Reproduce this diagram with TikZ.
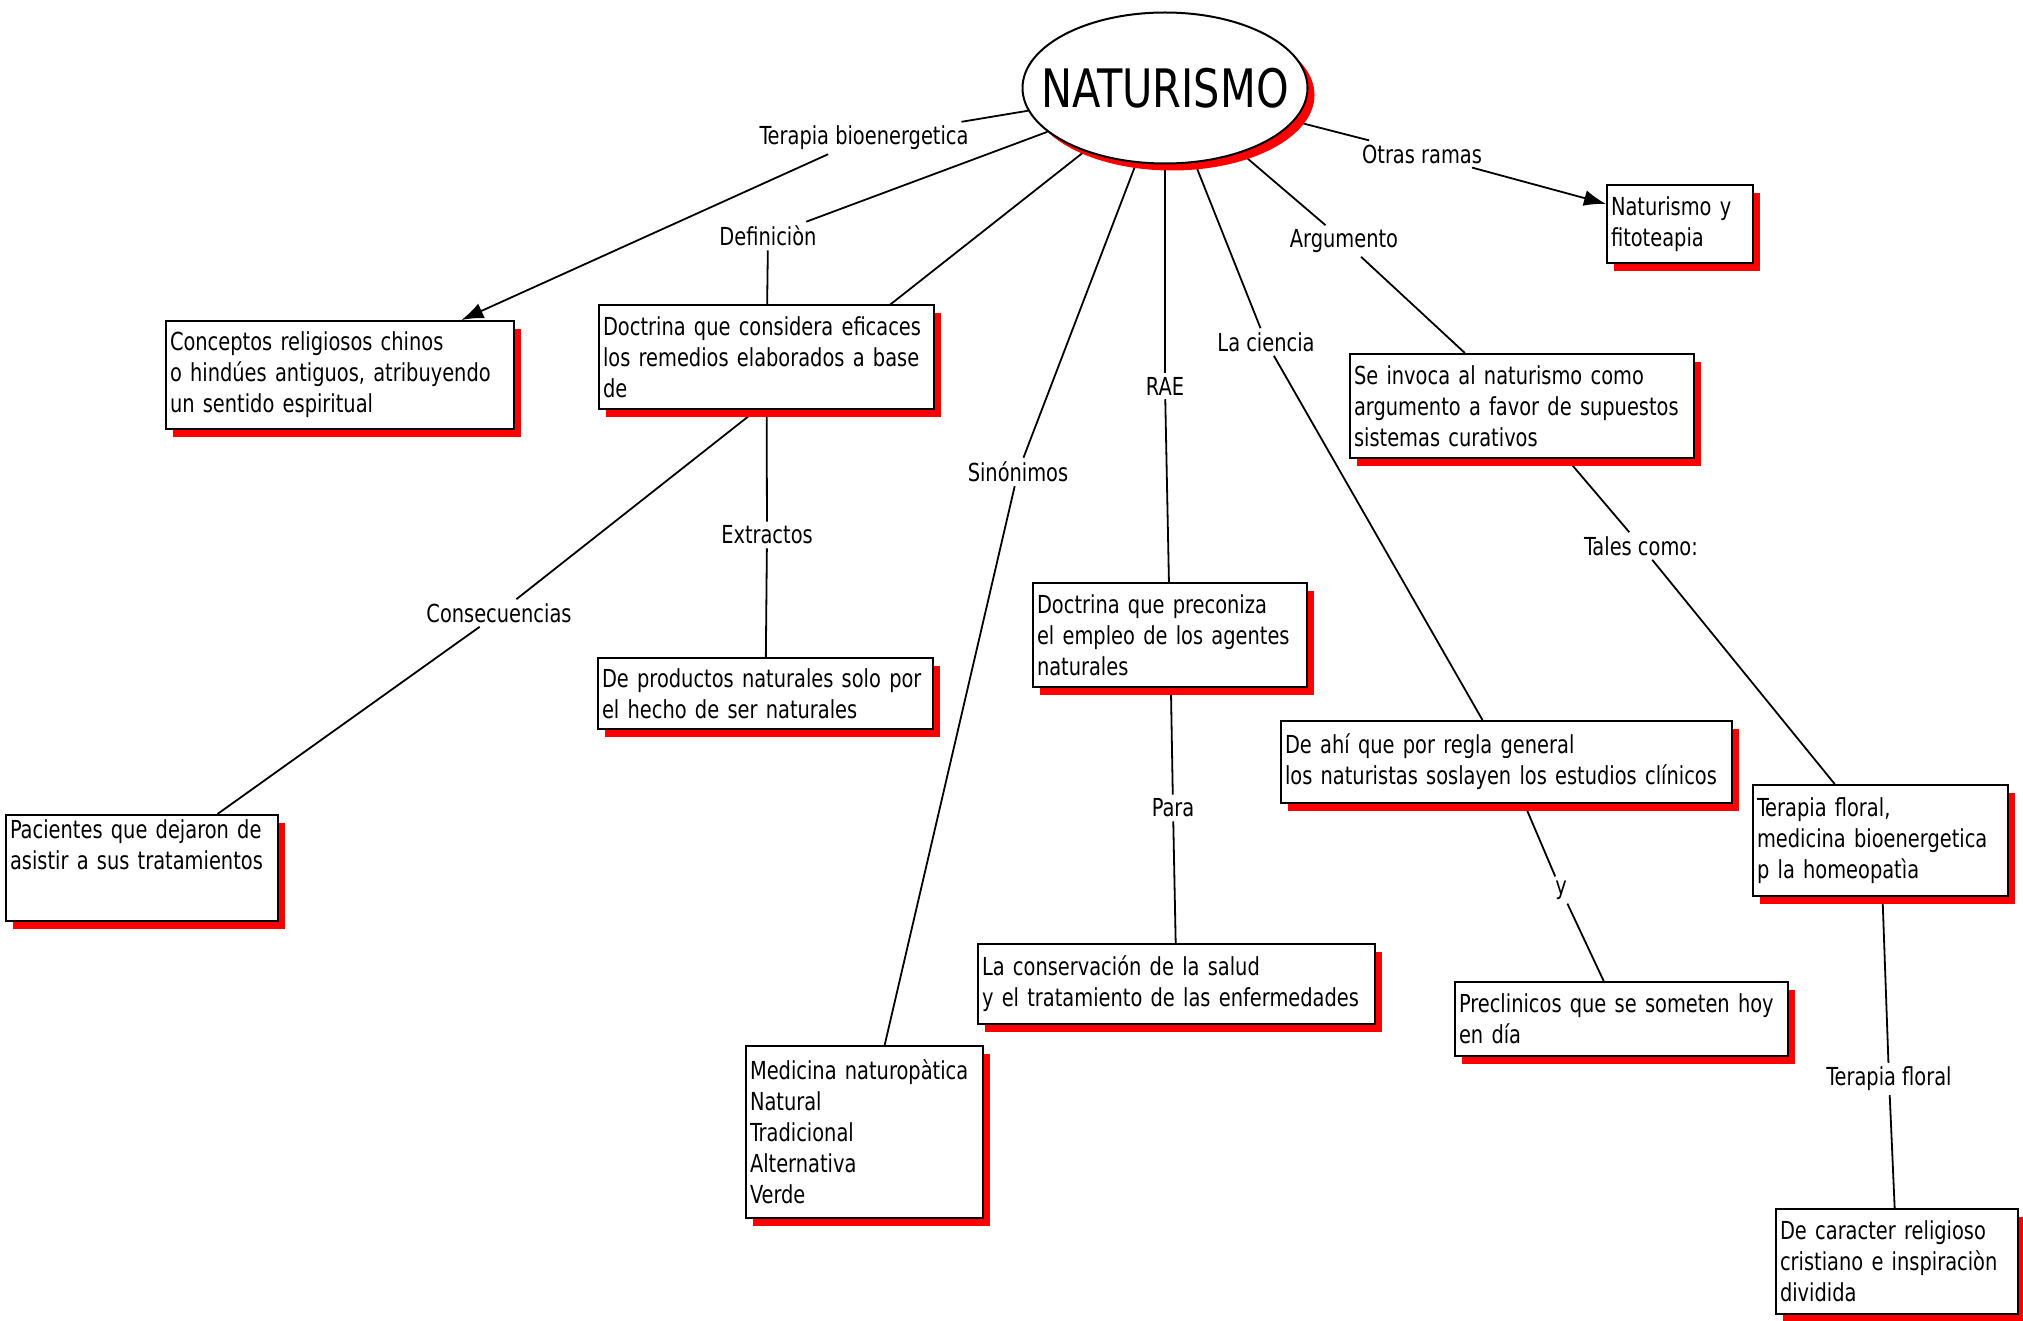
\documentclass[tikz,border=0pt]{standalone}
\usepackage{fontspec}
\setmainfont{DejaVu Sans Condensed}[FakeStretch=0.87]
\usetikzlibrary{shapes.geometric,shadows,backgrounds,arrows.meta}

\begin{document}
\begin{tikzpicture}[x=1pt,y=-1pt,font=\fontsize{24.8}{31}\selectfont,
  concepto/.style={draw,line width=2pt,fill=white,anchor=north west,align=left,inner xsep=4pt,inner ysep=5pt,
    drop shadow={shadow xshift=7pt,shadow yshift=-8pt,fill=red,opacity=1}},
  enlace/.style={inner sep=4pt},
  liga/.style={line width=1.8pt},
  >={Latex[length=22pt,width=16pt]}]
\useasboundingbox (0,0) rectangle (2023,1321);

\node[ellipse,draw,line width=2pt,fill=white,minimum width=285pt,minimum height=151pt,inner sep=0pt,
  label={[font=\fontsize{53}{53}\selectfont]center:NATURISMO},
  drop shadow={shadow xshift=7pt,shadow yshift=-7pt,fill=red,opacity=1}] (nat) at (1165,88) {};

\node[concepto,text width=340pt,minimum height=108pt] (conceptos) at (165,320) {Conceptos religiosos chinos\\o hindúes antiguos, atribuyendo\\un sentido espiritual};
\node[concepto,text width=327pt,minimum height=104pt] (doctrina) at (598,304) {Doctrina que considera eficaces\\los remedios elaborados a base\\de};
\node[concepto,text width=264pt,text depth=77pt] (pacientes) at (5,814) {Pacientes que dejaron de\\asistir a sus tratamientos};
\node[concepto,text width=327pt,minimum height=71pt] (productos) at (597,657) {De productos naturales solo por\\el hecho de ser naturales};
\node[concepto,text width=229pt,minimum height=172pt] (medicina) at (745,1045) {Medicina naturopàtica\\Natural\\Tradicional\\Alternativa\\Verde};
\node[concepto,text width=266pt,minimum height=104pt] (rae) at (1032,582) {Doctrina que preconiza\\el empleo de los agentes\\naturales};
\node[concepto,text width=389pt,minimum height=80pt] (conservacion) at (977,943) {La conservación de la salud\\y el tratamiento de las enfermedades};
\node[concepto,text width=443pt,minimum height=82pt] (deahi) at (1280,720) {De ahí que por regla general\\los naturistas soslayen los estudios clínicos};
\node[concepto,text width=325pt,minimum height=74pt] (preclinicos) at (1454,981) {Preclinicos que se someten hoy\\en día};
\node[concepto,text width=336pt,minimum height=104pt] (invoca) at (1349,353) {Se invoca al naturismo como\\argumento a favor de supuestos\\sistemas curativos};
\node[concepto,text width=138pt,minimum height=78pt] (fitoterapia) at (1606,184) {Naturismo y\\fitoteapia};
\node[concepto,text width=247pt,minimum height=111pt] (terapia) at (1752,784) {Terapia floral,\\medicina bioenergetica\\p la homeopatìa};
\node[concepto,text width=234pt,minimum height=105pt] (caracter) at (1775,1208) {De caracter religioso\\cristiano e inspiraciòn\\dividida};

\node[enlace] (lBio) at (864,138) {Terapia bioenergetica};
\node[enlace] (lDef) at (768,236) {Definiciòn};
\node[enlace] (lOtras) at (1422,154) {Otras ramas};
\node[enlace] (lArg) at (1344,241) {Argumento};
\node[enlace] (lCiencia) at (1266,342) {La ciencia};
\node[enlace] (lRae) at (1165,386) {RAE};
\node[enlace] (lSin) at (1018,472) {Sinónimos};
\node[enlace] (lExt) at (767,535) {Extractos};
\node[enlace] (lCons) at (499,613) {Consecuencias};
\node[enlace] (lPara) at (1173,808) {Para};
\node[enlace] (lY) at (1561,890) {y};
\node[enlace] (lTales) at (1641,546) {Tales como:};
\node[enlace] (lFloral) at (1889,1079) {Terapia floral};

\begin{pgfonlayer}{background}
\draw[liga,->] (nat) -- (lBio) -- (conceptos);
\draw[liga] (nat) -- (lDef) -- (doctrina);
\draw[liga] (nat) -- (lCons) -- (pacientes);
\draw[liga] (doctrina) -- (lExt) -- (productos);
\draw[liga] (nat) -- (lSin) -- (medicina);
\draw[liga] (nat) -- (lRae) -- (rae);
\draw[liga] (rae) -- (lPara) -- (conservacion);
\draw[liga] (nat) -- (lCiencia) -- (deahi);
\draw[liga] (deahi) -- (lY) -- (preclinicos);
\draw[liga] (nat) -- (lArg) -- (invoca);
\draw[liga] (invoca) -- (lTales) -- (terapia);
\draw[liga] (terapia) -- (lFloral) -- (caracter);
\draw[liga,->] (nat) -- (lOtras) -- (fitoterapia);
\end{pgfonlayer}
\end{tikzpicture}
\end{document}
